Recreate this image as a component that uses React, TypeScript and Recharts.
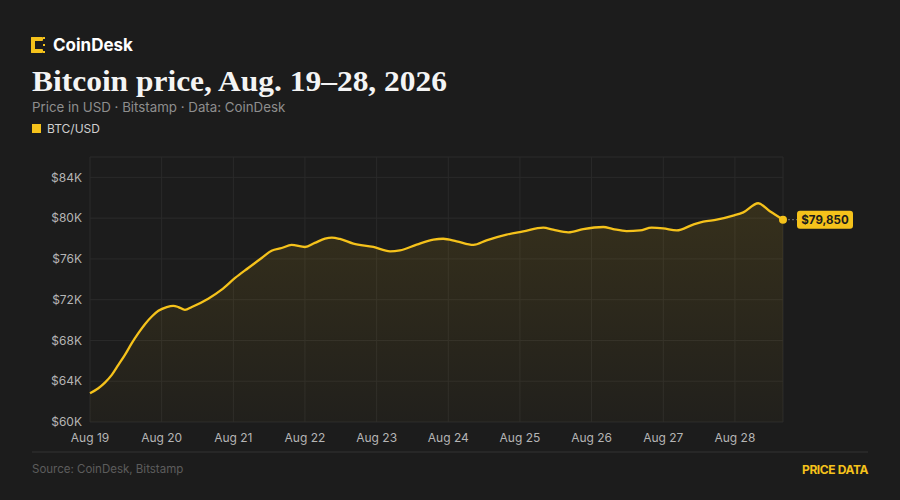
import React from "react";
import { AreaChart, Area, XAxis, YAxis, CartesianGrid } from "recharts";

// hours since Aug 19, 00:00
const hours = [0, 2.8, 5.0, 7.3, 9.5, 11.7, 14.0, 16.2, 18.4, 20.7, 22.9, 25.7, 27.9, 29.6, 31.8, 34.1, 39.6, 44.1, 48.6, 53.0, 57.5, 60.8, 64.2, 67.5, 72.0, 75.3, 78.7, 81.0, 83.7, 88.2, 94.9, 100.5, 103.8, 109.4, 115.0, 118.3, 122.8, 128.4, 132.8, 139.5, 145.1, 151.8, 155.1, 160.2, 165.2, 171.9, 175.2, 179.7, 184.2, 188.1, 192.0, 196.5, 202.0, 205.4, 209.9, 215.4, 218.8, 223.8, 227.7, 232.1];
const prices = [62820, 63310, 63860, 64620, 65600, 66590, 67740, 68720, 69600, 70350, 70910, 71280, 71400, 71280, 71010, 71280, 72090, 72980, 74130, 75110, 76090, 76810, 77070, 77370, 77170, 77570, 77990, 78090, 77960, 77500, 77170, 76740, 76840, 77400, 77890, 77980, 77730, 77370, 77820, 78380, 78700, 79070, 78870, 78610, 78930, 79130, 78930, 78730, 78800, 79070, 79000, 78800, 79370, 79660, 79850, 80250, 80570, 81460, 80670, 79850];
const dayTicks = [0, 24, 48, 72, 96, 120, 144, 168, 192, 216];
const dayLabels = ["Aug 19", "Aug 20", "Aug 21", "Aug 22", "Aug 23", "Aug 24", "Aug 25", "Aug 26", "Aug 27", "Aug 28"];
const priceTicks = [60000, 64000, 68000, 72000, 76000, 80000, 84000];

const data = hours.map((h, i) => ({ h, price: prices[i] }));

const YELLOW = "#F5C21B";
const BG = "#1c1c1c";
const SANS = "Inter, 'Noto Sans', sans-serif";

const EndDot = (props: any) => {
  const { cx, cy, index } = props;
  if (index !== data.length - 1 || cx == null || cy == null) return <g key={`d${index}`} />;
  const label = "$" + prices[prices.length - 1].toLocaleString("en-US");
  return (
    <g key={`d${index}`}>
      <line x1={cx + 5} y1={cy} x2={cx + 14} y2={cy} stroke="#777" strokeWidth={1} strokeDasharray="2 2" />
      <circle cx={cx} cy={cy} r={4} fill={YELLOW} />
      <rect x={cx + 14} y={cy - 9} width={56} height={18} rx={3} fill={YELLOW} />
      <text x={cx + 42} y={cy + 4} textAnchor="middle" fontFamily={SANS} fontSize={11.5} fontWeight={700} fill="#1c1c1c">
        {label}
      </text>
    </g>
  );
};

export default function App() {
  return (
    <div style={{ position: "fixed", left: 0, top: 0, width: 900, height: 500, background: BG, overflow: "hidden" }}>
      <svg width={900} height={500} style={{ position: "absolute", left: 0, top: 0 }}>
        {/* logo */}
        <g fill={YELLOW}>
          <rect x={31} y={37} width={4} height={16} rx={1} />
          <rect x={31} y={37} width={12} height={4} rx={1} />
          <rect x={31} y={49} width={12} height={4} rx={1} />
          <rect x={43} y={37} width={2} height={2} />
          <rect x={43} y={51} width={2} height={2} />
          <rect x={43} y={44} width={2} height={2} />
        </g>
        <text x={53} y={51} fontFamily={SANS} fontWeight={700} fontSize={17} fill="#ffffff">CoinDesk</text>
        <text x={32} y={91} fontFamily="'Liberation Serif', 'DejaVu Serif', serif" fontWeight={700} fontSize={30} textLength={415} lengthAdjust="spacingAndGlyphs" fill="#f4f4f4">
          Bitcoin price, Aug. 19–28, 2026
        </text>
        <text x={32} y={112} fontFamily={SANS} fontSize={13.3} fill="#8e8e8e">
          Price in USD · Bitstamp · Data: CoinDesk
        </text>
        <rect x={32} y={124} width={9} height={9} fill={YELLOW} />
        <text x={47} y={132.5} fontFamily={SANS} fontSize={12} fill="#cfcfcf">BTC/USD</text>
        <line x1={32} y1={452} x2={868} y2={452} stroke="#333333" strokeWidth={1} />
        <text x={32} y={473} fontFamily={SANS} fontSize={11.5} fill="#5c5c5c">Source: CoinDesk, Bitstamp</text>
        <text x={868} y={473.5} textAnchor="end" fontFamily={SANS} fontWeight={700} fontSize={12} letterSpacing={-0.4} fill={YELLOW}>
          PRICE DATA
        </text>
      </svg>
      <div style={{ position: "absolute", left: 0, top: 0 }}>
        <AreaChart width={900} height={500} data={data} margin={{ top: 157, right: 117, bottom: 48, left: 32 }}>
          <defs>
            <linearGradient id="btcFill" x1="0" y1="0" x2="0" y2="1">
              <stop offset="0%" stopColor={YELLOW} stopOpacity={0.2} />
              <stop offset="100%" stopColor={YELLOW} stopOpacity={0.04} />
            </linearGradient>
          </defs>
          <CartesianGrid stroke="#2a2a2a" strokeWidth={1} />
          <XAxis
            dataKey="h"
            type="number"
            domain={[0, 232.1]}
            ticks={dayTicks}
            tickFormatter={(v: number) => dayLabels[dayTicks.indexOf(v)]}
            axisLine={false}
            tickLine={false}
            height={30}
            tickMargin={5}
            tick={{ fill: "#b5b5b5", fontSize: 12, fontFamily: SANS }}
          />
          <YAxis
            type="number"
            domain={[60000, 86000]}
            ticks={priceTicks}
            tickFormatter={(v: number) => `$${v / 1000}K`}
            axisLine={false}
            tickLine={false}
            width={58}
            tick={{ fill: "#b5b5b5", fontSize: 12, fontFamily: SANS }}
          />
          <Area
            type="monotone"
            dataKey="price"
            stroke={YELLOW}
            strokeWidth={2.3}
            fill="url(#btcFill)"
            isAnimationActive={false}
            dot={EndDot}
            activeDot={false}
          />
        </AreaChart>
      </div>
    </div>
  );
}
